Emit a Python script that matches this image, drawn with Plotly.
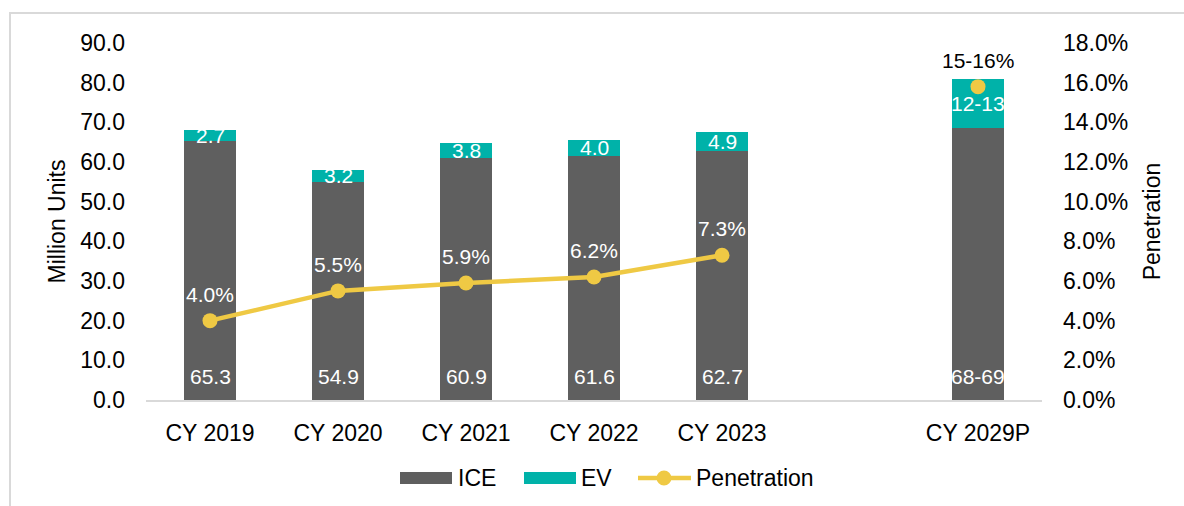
import plotly.graph_objects as go

# Category axis; the blank entry keeps a gap before the projection year
categories = ["CY 2019", "CY 2020", "CY 2021", "CY 2022", "CY 2023", " ", "CY 2029P"]

# Volumes in million units (2029P shown as a range, plotted at its midpoint)
ice_values = [65.3, 54.9, 60.9, 61.6, 62.7, None, 68.5]
ev_values = [2.7, 3.2, 3.8, 4.0, 4.9, None, 12.5]
ice_labels = ["65.3", "54.9", "60.9", "61.6", "62.7", "", "68-69"]
ev_labels = ["2.7", "3.2", "3.8", "4.0", "4.9", "", "12-13"]

# EV penetration in percent
penetration = [4.0, 5.5, 5.9, 6.2, 7.3, None, 15.8]
penetration_labels = ["4.0%", "5.5%", "5.9%", "6.2%", "7.3%", "", "15-16%"]
penetration_label_colors = ["white", "white", "white", "white", "white", "white", "black"]

ICE_COLOR = "#5f5f5f"
EV_COLOR = "#00b2a9"
PEN_COLOR = "#efc944"
FONT = "Liberation Sans, Arial, sans-serif"
FS = 23        # axis, title and legend text
FS_LABEL = 21  # data labels

# Plot-area geometry in pixels (used for the frame and the legend row)
W, H = 1184, 506
L, R, T, B = 146, 142, 43, 106
PW, PH = W - L - R, H - T - B


def px_x(px):
    return (px - L) / PW


def px_y(py):
    return (H - B - py) / PH


fig = go.Figure()

fig.add_trace(go.Bar(
    x=categories, y=ice_values, name="ICE",
    marker=dict(color=ICE_COLOR, line=dict(width=0)),
    hoverinfo="skip",
))
fig.add_trace(go.Bar(
    x=categories, y=ev_values, name="EV",
    marker=dict(color=EV_COLOR, line=dict(width=0)),
    hoverinfo="skip",
))
fig.add_trace(go.Scatter(
    x=categories, y=penetration, name="Penetration", yaxis="y2",
    mode="lines+markers",
    line=dict(color=PEN_COLOR, width=4.5),
    marker=dict(color=PEN_COLOR, size=15),
    connectgaps=False,
    hoverinfo="skip",
))

# Value labels
for cat, ice, ev, il, el in zip(categories, ice_values, ev_values, ice_labels, ev_labels):
    if ice is None:
        continue
    fig.add_annotation(
        x=cat, y=0, text=il, showarrow=False, yanchor="bottom", yshift=10,
        font=dict(family=FONT, size=FS_LABEL, color="white"),
    )
    fig.add_annotation(
        x=cat, y=ice + ev / 2, text=el, showarrow=False, yanchor="middle",
        font=dict(family=FONT, size=FS_LABEL, color="white"),
    )

for cat, p, pl, pc in zip(categories, penetration, penetration_labels, penetration_label_colors):
    if p is None:
        continue
    fig.add_annotation(
        x=cat, y=p, yref="y2", text=pl, showarrow=False,
        yanchor="bottom", yshift=13,
        font=dict(family=FONT, size=FS_LABEL, color=pc),
    )

# Light frame around the chart
fig.add_shape(
    type="rect", xref="paper", yref="paper",
    x0=px_x(10), x1=px_x(1240), y0=px_y(560), y1=px_y(13),
    line=dict(color="#d9d9d9", width=2), fillcolor="rgba(0,0,0,0)", layer="below",
)

# Legend row: wide swatches as in the house style
LEG_Y = 478
for x0, x1, color in [(400, 452, ICE_COLOR), (524, 576, EV_COLOR)]:
    fig.add_shape(
        type="rect", xref="paper", yref="paper",
        x0=px_x(x0), x1=px_x(x1), y0=px_y(LEG_Y + 6), y1=px_y(LEG_Y - 6),
        line=dict(width=0), fillcolor=color,
    )
fig.add_shape(
    type="line", xref="paper", yref="paper",
    x0=px_x(638), x1=px_x(691), y0=px_y(LEG_Y), y1=px_y(LEG_Y),
    line=dict(color=PEN_COLOR, width=4.5),
)
fig.add_shape(
    type="circle", xref="paper", yref="paper",
    x0=px_x(664 - 7.5), x1=px_x(664 + 7.5), y0=px_y(LEG_Y + 7.5), y1=px_y(LEG_Y - 7.5),
    line=dict(width=0), fillcolor=PEN_COLOR,
)
for x, label in [(456, "ICE"), (579, "EV"), (694, "Penetration")]:
    fig.add_annotation(
        xref="paper", yref="paper", x=px_x(x), y=px_y(LEG_Y),
        xanchor="left", yanchor="middle", text=label, showarrow=False,
        font=dict(family=FONT, size=FS, color="black"),
    )

fig.update_layout(
    width=W, height=H,
    margin=dict(l=L, r=R, t=T, b=B),
    paper_bgcolor="white", plot_bgcolor="white",
    barmode="stack", bargap=0.6,
    font=dict(family=FONT, size=FS, color="black"),
    showlegend=False,
    xaxis=dict(
        type="category", categoryorder="array", categoryarray=categories,
        showline=True, linecolor="#d9d9d9", linewidth=2,
        showgrid=False, zeroline=False, ticks="",
        ticklabelstandoff=11,
        tickfont=dict(family=FONT, size=FS, color="black"),
    ),
    yaxis=dict(
        range=[0, 90], dtick=10, tickformat=".1f",
        showgrid=False, zeroline=False, showline=False, ticks="",
        ticklabelstandoff=20,
        tickfont=dict(family=FONT, size=FS, color="black"),
        title=dict(text="Million Units", standoff=8,
                   font=dict(family=FONT, size=FS, color="black")),
    ),
    yaxis2=dict(
        overlaying="y", side="right",
        range=[0, 18], dtick=2, tickformat=".1f", ticksuffix="%",
        showgrid=False, zeroline=False, showline=False, ticks="",
        ticklabelstandoff=20,
        tickfont=dict(family=FONT, size=FS, color="black"),
        title=dict(text="Penetration", standoff=16,
                   font=dict(family=FONT, size=FS, color="black")),
    ),
)

fig.write_html("out.html")
